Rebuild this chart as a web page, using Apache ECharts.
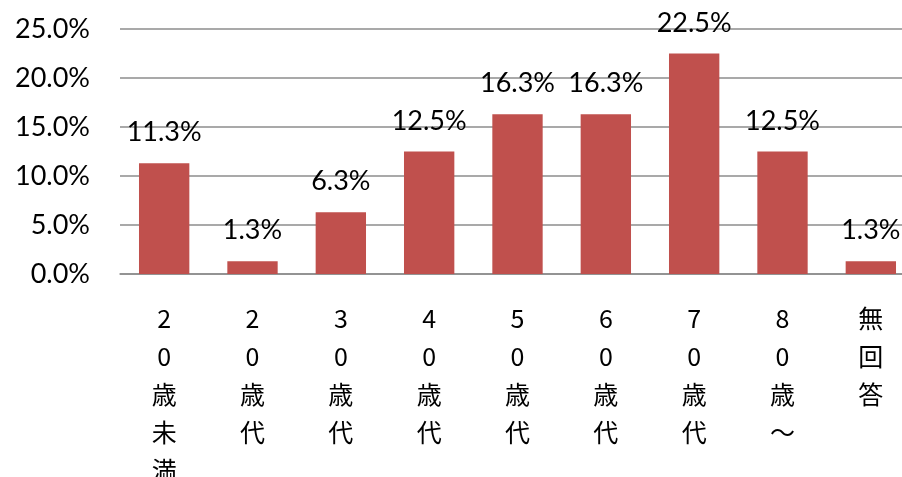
<!DOCTYPE html>
<html>
<head>
<meta charset="utf-8">
<script src="https://cdn.jsdelivr.net/npm/echarts@6/dist/echarts.min.js"></script>
<style>
html,body{margin:0;padding:0;background:#fff;overflow:hidden;}
#main{width:902px;height:477px;}
</style>
</head>
<body>
<div id="main"></div>
<script>
var categories = ['20歳未満', '20歳代', '30歳代', '40歳代', '50歳代', '60歳代', '70歳代', '80歳～', '無回答'];
var values = [11.3, 1.3, 6.3, 12.5, 16.3, 16.3, 22.5, 12.5, 1.3];
var yTicks = [0, 5, 10, 15, 20, 25];

var chart = echarts.init(document.getElementById('main'));
chart.setOption({
  animation: false,
  grid: { left: 120, right: -13, top: 29, bottom: 203, containLabel: false, outerBoundsMode: 'none' },
  xAxis: {
    type: 'category',
    data: categories,
    axisTick: { show: false },
    axisLine: { lineStyle: { color: '#8c8c8c', width: 1.5 } },
    axisLabel: {
      interval: 0,
      margin: 25,
      color: '#000',
      fontSize: 25,
      lineHeight: 38,
      fontFamily: 'Noto Sans CJK JP',
      verticalAlign: 'top',
      formatter: function (v) { return v.split('').join('\n'); }
    }
  },
  yAxis: {
    type: 'value',
    min: yTicks[0],
    max: yTicks[yTicks.length - 1],
    interval: 5,
    axisLine: { show: false },
    axisTick: { show: false },
    splitLine: { lineStyle: { color: '#8c8c8c', width: 1.5 } },
    axisLabel: {
      margin: 30,
      color: '#000',
      fontSize: 27,
      fontFamily: 'Lato',
      formatter: function (v) { return v.toFixed(1) + '%'; }
    }
  },
  series: [{
    type: 'bar',
    data: values,
    barWidth: '57%',
    itemStyle: { color: '#C0504D' },
    label: {
      show: true,
      position: 'top',
      distance: 17,
      color: '#000',
      fontSize: 27,
      fontFamily: 'Lato',
      formatter: function (p) { return p.value.toFixed(1) + '%'; }
    }
  }]
});
</script>
</body>
</html>
